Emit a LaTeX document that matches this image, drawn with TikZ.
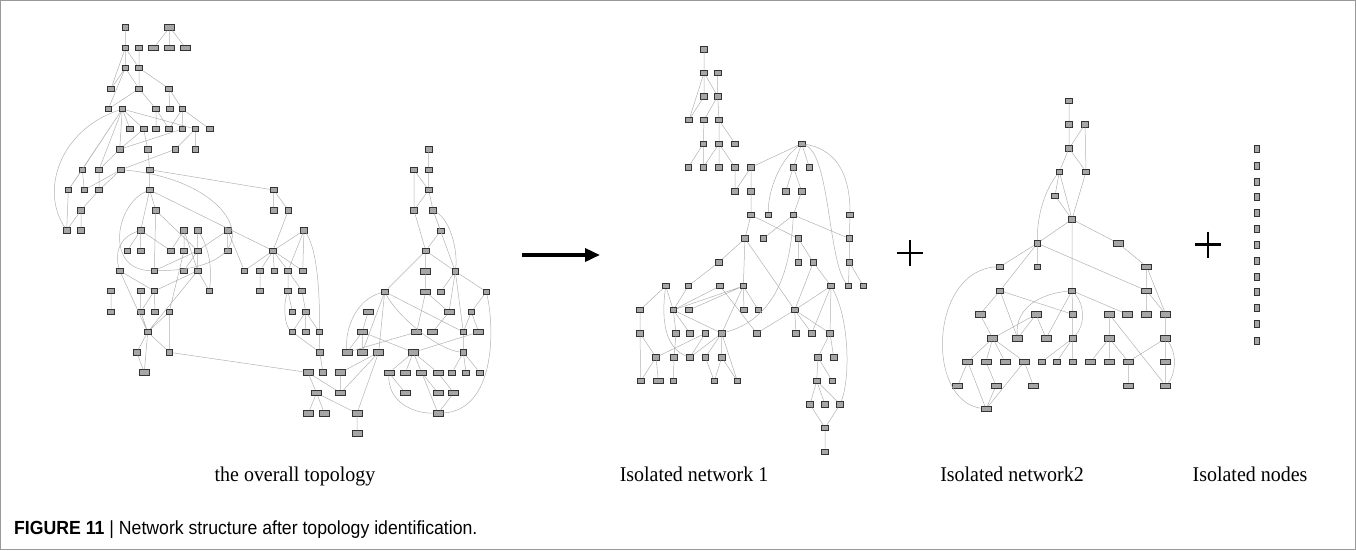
\documentclass[tikz,border=0pt]{standalone}
\usepackage{fontspec}
\setmainfont{Liberation Serif}[FakeStretch=0.95]
\newfontfamily\capfont{Liberation Sans}[FakeStretch=0.93]
\usetikzlibrary{arrows.meta}

\begin{document}
\begin{tikzpicture}[x=1pt,y=-1pt,
	nd/.style={rectangle, draw=black!80, fill=black!35, line width=0.8pt, minimum width=6.5pt, minimum height=5.5pt, inner sep=0pt},
	wnd/.style={nd, minimum width=10pt},
	vnd/.style={nd, minimum width=5.5pt, minimum height=7pt},
	ln/.style={draw=black!30, line width=0.5pt},
	lbl/.style={font=\fontsize{21}{24}\selectfont, anchor=base},
	plusbar/.style={line width=2.5pt, black}]
	\useasboundingbox (0,0) rectangle (1356,550);
	\draw[black!40, line width=1pt] (0.5,0.5) rectangle (1355.5,549.5);

	% the overall topology
	\node[nd] (t1) at (125.3,27.3) {};
	\node[wnd] (tw1) at (169.7,27.3) {};
	\node[nd] (t2) at (125.3,48) {};
	\node[nd] (t3) at (139,48) {};
	\node[wnd] (tw2) at (153.7,48) {};
	\node[wnd] (tw3) at (169.7,48) {};
	\node[wnd] (tw4) at (185.7,48) {};
	\node[nd] (t4) at (125.3,68) {};
	\node[nd] (t5) at (139,68) {};
	\node[nd] (t6) at (111,88.7) {};
	\node[nd] (t7) at (139,88.7) {};
	\node[nd] (t8) at (169,88.7) {};
	\node[nd] (t9) at (108.3,109) {};
	\node[nd] (t10) at (122.3,109) {};
	\node[nd] (t11) at (156,109) {};
	\node[nd] (t12) at (169.7,109) {};
	\node[nd] (t13) at (182.3,109) {};
	\node[nd] (t14) at (130,129) {};
	\node[nd] (t15) at (143.7,129) {};
	\node[nd] (t16) at (156,129) {};
	\node[nd] (t17) at (169,129) {};
	\node[nd] (t18) at (182.3,129) {};
	\node[nd] (t19) at (195.3,129) {};
	\node[nd] (t20) at (209.7,129) {};
	\node[nd] (t21) at (119.7,149.3) {};
	\node[nd] (t22) at (147.7,149.3) {};
	\node[nd] (t23) at (175.3,149.3) {};
	\node[nd] (t24) at (195.3,149.3) {};
	\node[nd] (t25) at (82.3,169.7) {};
	\node[nd] (t26) at (99,169.7) {};
	\node[nd] (t27) at (121,169.7) {};
	\node[nd] (t28) at (149.7,169.7) {};
	\node[nd] (t29) at (68.3,190) {};
	\node[nd] (t30) at (84.3,190) {};
	\node[nd] (t31) at (99,190) {};
	\node[nd] (t32) at (149.7,190) {};
	\node[nd] (t33) at (273.7,190) {};
	\node[nd] (t34) at (81,210.3) {};
	\node[nd] (t35) at (155.7,210.3) {};
	\node[nd] (t36) at (273.7,210.3) {};
	\node[nd] (t37) at (288.3,210.3) {};
	\node[nd] (t38) at (66.7,230.3) {};
	\node[nd] (t39) at (81,230.3) {};
	\node[nd] (t40) at (140.7,230.3) {};
	\node[nd] (t41) at (184,230.3) {};
	\node[nd] (t42) at (197.7,230.3) {};
	\node[nd] (t43) at (227.7,230.3) {};
	\node[nd] (t44) at (304,230.3) {};
	\node[nd] (t45) at (127.3,250.7) {};
	\node[nd] (t46) at (140.7,250.7) {};
	\node[nd] (t47) at (170.7,250.7) {};
	\node[nd] (t48) at (184,250.7) {};
	\node[nd] (t49) at (197.7,250.7) {};
	\node[nd] (t50) at (227.7,250.7) {};
	\node[nd] (t51) at (273,250.7) {};
	\node[nd] (t52) at (119.7,270.7) {};
	\node[nd] (t53) at (154.3,270.7) {};
	\node[nd] (t54) at (184,270.7) {};
	\node[nd] (t55) at (197.7,270.7) {};
	\node[nd] (t56) at (244.3,270.7) {};
	\node[nd] (t57) at (260,270.7) {};
	\node[nd] (t58) at (274.3,270.7) {};
	\node[nd] (t59) at (288,270.7) {};
	\node[nd] (t60) at (302.7,270.7) {};
	\node[nd] (t61) at (111,291) {};
	\node[nd] (t62) at (140.7,291) {};
	\node[nd] (t63) at (154.3,291) {};
	\node[nd] (t64) at (209.3,291) {};
	\node[nd] (t65) at (260,291) {};
	\node[nd] (t66) at (288,291) {};
	\node[nd] (t67) at (302,291) {};
	\node[nd] (t68) at (111,311.7) {};
	\node[nd] (t69) at (140.7,311.7) {};
	\node[nd] (t70) at (155,311.7) {};
	\node[nd] (t71) at (169.3,311.7) {};
	\node[nd] (t72) at (292.3,311.7) {};
	\node[nd] (t73) at (305.7,311.7) {};
	\node[nd] (t74) at (147.7,332) {};
	\node[nd] (t75) at (292.3,332) {};
	\node[nd] (t76) at (305.7,332) {};
	\node[nd] (t77) at (319.3,332) {};
	\node[nd] (t78) at (136.7,352.3) {};
	\node[nd] (t79) at (169.3,352.3) {};
	\node[nd] (t80) at (319.7,352.3) {};
	\node[wnd] (tw81) at (144.3,372.3) {};
	\node[wnd] (tw82) at (308,372.5) {};
	\node[nd] (t83) at (323,372.5) {};
	\node[wnd] (tw84) at (340.7,372.5) {};
	\node[wnd] (tw85) at (316.5,393) {};
	\node[wnd] (tw86) at (340.7,393) {};
	\node[wnd] (tw87) at (308.3,413.3) {};
	\node[wnd] (tw88) at (324.5,413.3) {};
	\node[wnd] (tw89) at (357,413.3) {};
	\node[wnd] (tw90) at (357,433.3) {};
	\node[nd] (c1) at (428.7,149.3) {};
	\node[nd] (c2) at (414,170) {};
	\node[nd] (c3) at (428.7,170) {};
	\node[nd] (c4) at (428.7,190) {};
	\node[nd] (c5) at (414,210.3) {};
	\node[nd] (c6) at (433,210.3) {};
	\node[nd] (c7) at (440.7,230.7) {};
	\node[nd] (c8) at (425.7,250.7) {};
	\node[wnd] (cw9) at (425.7,271.3) {};
	\node[nd] (c10) at (455.3,271.3) {};
	\node[nd] (c11) at (384.7,291.7) {};
	\node[wnd] (cw12) at (425.7,291.7) {};
	\node[nd] (c13) at (440.7,291.7) {};
	\node[nd] (c14) at (486.3,291.7) {};
	\node[wnd] (cw15) at (368,312) {};
	\node[wnd] (cw16) at (449,312) {};
	\node[nd] (c17) at (471.3,312) {};
	\node[wnd] (cw18) at (362.3,332) {};
	\node[wnd] (cw19) at (416.7,332) {};
	\node[wnd] (cw20) at (432.7,332) {};
	\node[nd] (c21) at (463.3,332) {};
	\node[wnd] (cw22) at (478.7,332) {};
	\node[wnd] (cw23) at (347,352.3) {};
	\node[wnd] (cw24) at (362.3,352.3) {};
	\node[wnd] (cw25) at (378.7,352.3) {};
	\node[wnd] (cw26) at (413.3,352.3) {};
	\node[nd] (c27) at (463.3,352.3) {};
	\node[wnd] (cw28) at (389,372.7) {};
	\node[wnd] (cw29) at (405.3,372.7) {};
	\node[wnd] (cw30) at (421.7,372.7) {};
	\node[wnd] (cw31) at (438,372.7) {};
	\node[nd] (c32) at (452,372.7) {};
	\node[nd] (c33) at (466,372.7) {};
	\node[nd] (c34) at (480,372.7) {};
	\node[wnd] (cw35) at (405.3,393) {};
	\node[wnd] (cw36) at (438,393) {};
	\node[wnd] (cw37) at (453.7,393) {};
	\node[wnd] (cw38) at (438,413.3) {};
	\draw[ln] (t1)--(t2) (tw1)--(tw2) (tw1)--(tw3) (tw1)--(tw4)
		(t2)--(t4) (t2)--(t5) (t3)--(t5) (t2)--(t6) (t4)--(t6) (t4)--(t9) (t4)--(t7) (t5)--(t7) (t5)--(t8)
		(t7)--(t9) (t7)--(t11) (t8)--(t12) (t8)--(t13)
		(t10)--(t14) (t10)--(t15) (t10)--(t19) (t10)--(t21) (t10)--(t25) (t10)--(t26) (t10)--(t29)
		(t11)--(t16) (t11)--(t17) (t13)--(t17) (t13)--(t18) (t13)--(t20)
		(t15)--(t21) (t15)--(t22) (t18)--(t21) (t19)--(t23) (t19)--(t24) (t23)--(t27) (t22)--(t28) (t21)--(t26)
		(t25)--(t29) (t25)--(t30) (t26)--(t31) (t27)--(t30) (t27)--(t31) (t31)--(t34)
		(t29)--(t38) (t34)--(t38) (t34)--(t39)
		(t28)--(t32) (t28)--(t33) (t32)--(t35) (t32)--(t40) (t32)--(t51) (t35)--(t53) (t35)--(t49)
		(t40)--(t45) (t40)--(t46) (t40)--(t47)
		(t41)--(t47) (t41)--(t48) (t41)--(t55) (t42)--(t49) (t43)--(t50) (t43)--(t49) (t43)--(t56)
		(t49)--(t53) (t49)--(t54) (t49)--(t55) (t48)--(t71)
		(t55)--(t63) (t55)--(t64) (t55)--(t74) (t52)--(t63) (t52)--(t74)
		(t63)--(t69) (t63)--(t70) (t62)--(t69) (t61)--(t68)
		(t69)--(t74) (t71)--(t74) (t71)--(t79) (t74)--(t78) (t74)--(t79) (t74)--(tw81) (t78)--(tw81) (t79)--(tw82)
		(t33)--(t36) (t33)--(t37) (t37)--(t51) (t44)--(t51) (t44)--(t59) (t44)--(t60)
		(t51)--(t56) (t51)--(t57) (t51)--(t58) (t51)--(t59) (t51)--(t60) (t57)--(t65) (t59)--(t66) (t59)--(t67)
		(t66)--(t72) (t67)--(t73) (t73)--(t75) (t73)--(t76) (t73)--(t77) (t75)--(t80) (t77)--(t80) (t80)--(t83)
		(tw82)--(tw85) (tw82)--(tw86) (tw85)--(tw87) (tw85)--(tw88) (tw85)--(tw89) (tw84)--(tw86) (tw89)--(tw90)
		(cw25)--(tw84) (cw25)--(tw86) (cw25)--(tw89)
		(c1)--(c3) (c2)--(c4) (c2)--(c5) (c3)--(c4) (c4)--(c5) (c4)--(c6) (c5)--(c8) (c6)--(c7) (c6)--(c10) (c7)--(c8)
		(c8)--(cw9) (c8)--(c10) (c8)--(c11) (cw9)--(cw12) (cw12)--(cw16) (cw12)--(cw19)
		(c10)--(c13) (c10)--(cw16) (c10)--(c14) (c10)--(c21) (c14)--(c17) (c17)--(c21) (c17)--(cw22)
		(c11)--(cw24) (c11)--(cw25) (c11)--(c21) (cw15)--(cw18) (cw18)--(cw23) (cw18)--(cw24) (cw18)--(cw26)
		(cw19)--(cw23) (cw22)--(cw26) (cw16)--(cw20) (c21)--(c27)
		(cw26)--(cw28) (cw26)--(cw29) (cw26)--(cw30) (cw26)--(cw31) (c27)--(c32) (c27)--(c33) (c27)--(c34)
		(cw28)--(cw35) (cw30)--(cw36) (cw30)--(cw38) (cw31)--(cw37) (cw37)--(cw38);
	\draw[ln] (t10) .. controls (60,130) and (40,190) .. (t38);
	\draw[ln] (t27) .. controls (240,180) and (280,270) .. (t53);
	\draw[ln] (t32) .. controls (115,205) and (105,270) .. (t53);
	\draw[ln] (t40) .. controls (118,238) and (115,255) .. (t52);
	\draw[ln] (t42) .. controls (210,250) and (212,270) .. (t64);
	\draw[ln] (t44) .. controls (318,250) and (320,300) .. (t77);
	\draw[ln] (t66) .. controls (283,305) and (285,325) .. (t75);
	\draw[ln] (c6) .. controls (450,220) and (458,250) .. (c10);
	\draw[ln] (c14) .. controls (495,330) and (495,410) .. (cw38);
	\draw[ln] (cw28) .. controls (388,400) and (410,413) .. (cw38);
	\draw[ln] (c11) .. controls (355,300) and (345,330) .. (cw23);
	\draw[ln] (c11) .. controls (400,320) and (440,350) .. (c27);

	% isolated network 1
	\node[nd] (a1) at (704,49.3) {};
	\node[nd] (a2) at (704,72.7) {};
	\node[nd] (a3) at (717.7,72.7) {};
	\node[nd] (a4) at (704,96.3) {};
	\node[nd] (a5) at (717.7,96.3) {};
	\node[nd] (a6) at (689,120) {};
	\node[nd] (a7) at (704,120) {};
	\node[nd] (a8) at (719,120) {};
	\node[nd] (a9) at (703.3,143.7) {};
	\node[nd] (a10) at (719,143.7) {};
	\node[nd] (a11) at (735,143.7) {};
	\node[nd] (a12) at (801.7,143.7) {};
	\node[nd] (a13) at (688.3,167.3) {};
	\node[nd] (a14) at (703.3,167.3) {};
	\node[nd] (a15) at (719,167.3) {};
	\node[nd] (a16) at (735,167.3) {};
	\node[nd] (a17) at (751,167.3) {};
	\node[nd] (a18) at (793.3,167.3) {};
	\node[nd] (a19) at (809.3,167.3) {};
	\node[nd] (a20) at (735,191.3) {};
	\node[nd] (a21) at (751,191.3) {};
	\node[nd] (a22) at (785.7,191.3) {};
	\node[nd] (a23) at (801.7,191.3) {};
	\node[nd] (a24) at (751,215) {};
	\node[nd] (a25) at (768.3,215) {};
	\node[nd] (a26) at (793.3,215) {};
	\node[nd] (a27) at (850,215) {};
	\node[nd] (a28) at (745,238.5) {};
	\node[nd] (a29) at (763.3,238.5) {};
	\node[nd] (a30) at (798.3,238.5) {};
	\node[nd] (a31) at (849.3,238.5) {};
	\node[nd] (a32) at (718.7,262.3) {};
	\node[nd] (a33) at (798.3,262.3) {};
	\node[nd] (a34) at (813.3,262.3) {};
	\node[nd] (a35) at (849.3,262.3) {};
	\node[nd] (a36) at (665.7,286) {};
	\node[nd] (a37) at (688.3,286) {};
	\node[nd] (a38) at (720,286) {};
	\node[nd] (a39) at (743.3,286) {};
	\node[nd] (a40) at (831,286) {};
	\node[nd] (a41) at (848.3,286) {};
	\node[nd] (a42) at (863.3,286) {};
	\node[nd] (a43) at (640,310) {};
	\node[nd] (a44) at (673.3,310) {};
	\node[nd] (a45) at (689,310) {};
	\node[nd] (a46) at (744,310) {};
	\node[nd] (a47) at (758.3,310) {};
	\node[nd] (a48) at (794.7,310) {};
	\node[nd] (a49) at (640,333.3) {};
	\node[nd] (a50) at (676,333.3) {};
	\node[nd] (a51) at (690,333.3) {};
	\node[nd] (a52) at (705.3,333.3) {};
	\node[nd] (a53) at (721.7,333.3) {};
	\node[nd] (a54) at (756.7,333.3) {};
	\node[nd] (a55) at (796,333.3) {};
	\node[nd] (a56) at (811.7,333.3) {};
	\node[nd] (a57) at (830,333.3) {};
	\node[nd] (a58) at (656,357.3) {};
	\node[nd] (a59) at (674,357.3) {};
	\node[nd] (a60) at (690,357.3) {};
	\node[nd] (a61) at (705.3,357.3) {};
	\node[nd] (a62) at (721.7,357.3) {};
	\node[nd] (a63) at (818,357.3) {};
	\node[nd] (a64) at (833.7,357.3) {};
	\node[nd] (a65) at (640.7,381) {};
	\node[wnd] (aw66) at (658.3,381) {};
	\node[nd] (a67) at (673.3,381) {};
	\node[nd] (a68) at (714.3,381) {};
	\node[nd] (a69) at (737.3,381) {};
	\node[nd] (a70) at (816.7,381) {};
	\node[nd] (a71) at (832.3,381) {};
	\node[nd] (a72) at (810,404.3) {};
	\node[nd] (a73) at (825,404.3) {};
	\node[nd] (a74) at (840,404.3) {};
	\node[nd] (a75) at (825,428) {};
	\node[nd] (a76) at (825,451.7) {};
	\draw[ln] (a1)--(a2) (a2)--(a4) (a2)--(a5) (a2)--(a6) (a3)--(a5) (a4)--(a6) (a5)--(a7) (a5)--(a8)
		(a7)--(a9) (a8)--(a10) (a8)--(a11) (a9)--(a13) (a9)--(a14) (a10)--(a14) (a10)--(a15) (a10)--(a16)
		(a16)--(a20) (a17)--(a20) (a17)--(a21) (a12)--(a17) (a12)--(a18) (a12)--(a19)
		(a18)--(a22) (a18)--(a23) (a23)--(a26) (a21)--(a24) (a24)--(a28) (a24)--(a30) (a26)--(a29) (a26)--(a31) (a27)--(a31)
		(a28)--(a32) (a28)--(a39) (a28)--(a48) (a30)--(a33) (a30)--(a34) (a34)--(a40) (a34)--(a48)
		(a31)--(a35) (a35)--(a41) (a35)--(a42)
		(a32)--(a37) (a37)--(a44) (a36)--(a43) (a36)--(a44) (a38)--(a44) (a38)--(a54)
		(a39)--(a44) (a39)--(a45) (a39)--(a46) (a39)--(a47) (a39)--(a53)
		(a40)--(a48) (a40)--(a56) (a40)--(a57) (a48)--(a54) (a48)--(a55) (a48)--(a56) (a48)--(a57)
		(a43)--(a49) (a49)--(a65) (a49)--(a58) (a44)--(a50) (a44)--(a51) (a44)--(a53) (a50)--(a59)
		(a52)--(a58) (a52)--(a60) (a53)--(a60) (a53)--(a61) (a53)--(a62) (a53)--(a69) (a62)--(a68) (a62)--(a69)
		(a58)--(a65) (a58)--(aw66) (a59)--(a67) (a61)--(a68)
		(a57)--(a63) (a57)--(a64) (a63)--(a70) (a63)--(a71) (a70)--(a72) (a70)--(a73) (a70)--(a74)
		(a72)--(a75) (a74)--(a75) (a75)--(a76);
	\draw[ln] (a12) .. controls (780,160) and (768,190) .. (a25);
	\draw[ln] (a12) .. controls (840,150) and (850,180) .. (a27);
	\draw[ln] (a12) .. controls (830,155) and (828,260) .. (a41);
	\draw[ln] (a26) .. controls (790,280) and (770,320) .. (a53);
	\draw[ln] (a36) .. controls (660,330) and (670,350) .. (a60);
	\draw[ln] (a40) .. controls (850,320) and (850,380) .. (a74);

	% isolated network 2
	\node[nd] (b1) at (1069,101) {};
	\node[nd] (b2) at (1069,124.3) {};
	\node[nd] (b3) at (1085,124.3) {};
	\node[nd] (b4) at (1069,148.3) {};
	\node[nd] (b5) at (1059.3,171.7) {};
	\node[nd] (b6) at (1086,171.7) {};
	\node[nd] (b7) at (1055,195.7) {};
	\node[nd] (b8) at (1072,219.3) {};
	\node[nd] (b9) at (1037.3,243.3) {};
	\node[wnd] (bw10) at (1118.3,243.3) {};
	\node[nd] (b11) at (1000,266.7) {};
	\node[nd] (b12) at (1037.3,266.7) {};
	\node[wnd] (bw13) at (1146.7,266.7) {};
	\node[nd] (b14) at (1000,290.7) {};
	\node[nd] (b15) at (1072,290.7) {};
	\node[wnd] (bw16) at (1146.7,290.7) {};
	\node[wnd] (bw17) at (980,314.3) {};
	\node[wnd] (bw18) at (1036,314.3) {};
	\node[nd] (b19) at (1072.7,314.3) {};
	\node[wnd] (bw20) at (1109.3,314.3) {};
	\node[wnd] (bw21) at (1127.3,314.3) {};
	\node[wnd] (bw22) at (1146.7,314.3) {};
	\node[wnd] (bw23) at (1165.7,314.3) {};
	\node[wnd] (bw24) at (992.7,338.3) {};
	\node[wnd] (bw25) at (1017.7,338.3) {};
	\node[wnd] (bw26) at (1046,338.3) {};
	\node[nd] (b27) at (1072.7,338.3) {};
	\node[wnd] (bw28) at (1109.3,338.3) {};
	\node[wnd] (bw29) at (1165.7,338.3) {};
	\node[wnd] (bw30) at (967.7,361.7) {};
	\node[wnd] (bw31) at (986,361.7) {};
	\node[wnd] (bw32) at (1005,361.7) {};
	\node[wnd] (bw33) at (1024.3,361.7) {};
	\node[nd] (b34) at (1042,361.7) {};
	\node[nd] (b35) at (1056.7,361.7) {};
	\node[nd] (b36) at (1072.7,361.7) {};
	\node[wnd] (bw37) at (1090.7,361.7) {};
	\node[wnd] (bw38) at (1109.3,361.7) {};
	\node[wnd] (bw39) at (1128.3,361.7) {};
	\node[wnd] (bw40) at (1165.7,361.7) {};
	\node[wnd] (bw41) at (957.7,385.7) {};
	\node[wnd] (bw42) at (996,385.7) {};
	\node[wnd] (bw43) at (1033.3,385.7) {};
	\node[wnd] (bw44) at (1128.3,385.7) {};
	\node[wnd] (bw45) at (1165.7,385.7) {};
	\node[wnd] (bw46) at (986,409) {};
	\draw[ln] (b1)--(b2) (b2)--(b4) (b3)--(b4) (b3)--(b6) (b4)--(b5) (b4)--(b6) (b5)--(b7) (b5)--(b8) (b6)--(b8) (b7)--(b8)
		(b8)--(b9) (b8)--(bw10) (b8)--(b15) (b9)--(b11) (b9)--(b12) (b9)--(b14) (b9)--(bw16)
		(bw10)--(bw13) (bw13)--(bw16) (bw13)--(bw23)
		(b14)--(bw17) (b14)--(bw25) (b14)--(b19) (b15)--(bw26) (b15)--(b19) (b15)--(bw21)
		(bw18)--(bw24) (bw18)--(bw25) (bw18)--(bw26) (bw17)--(bw24)
		(bw24)--(bw30) (bw24)--(bw31) (bw24)--(bw32) (bw24)--(bw33)
		(bw30)--(bw41) (bw30)--(bw46) (bw31)--(bw42) (bw42)--(bw46) (bw33)--(bw46) (bw33)--(bw43)
		(b19)--(b27) (b27)--(b34) (b27)--(b35) (b27)--(b36)
		(bw20)--(bw28) (bw20)--(bw45) (bw28)--(bw37) (bw28)--(bw38) (bw28)--(bw39) (bw39)--(bw44)
		(bw16)--(bw22) (bw16)--(bw23) (bw23)--(bw29) (bw29)--(bw39) (bw29)--(bw40) (bw40)--(bw45);
	\draw[ln] (b5) .. controls (1045,190) and (1037,215) .. (b9);
	\draw[ln] (b11) .. controls (930,270) and (925,400) .. (bw46);
	\draw[ln] (b15) .. controls (1030,295) and (1015,315) .. (bw25);
	\draw[ln] (b15) .. controls (1085,305) and (1085,325) .. (b27);
	\draw[ln] (bw29) .. controls (1178,355) and (1175,375) .. (bw45);

	% isolated nodes
	\node[vnd] (i1) at (1256.7,149.3) {};
	\node[vnd] (i2) at (1256.7,166) {};
	\node[vnd] (i3) at (1256.7,181.7) {};
	\node[vnd] (i4) at (1256.7,197.3) {};
	\node[vnd] (i5) at (1256.7,213.3) {};
	\node[vnd] (i6) at (1256.7,229) {};
	\node[vnd] (i7) at (1256.7,245) {};
	\node[vnd] (i8) at (1256.7,261) {};
	\node[vnd] (i9) at (1256.7,276.7) {};
	\node[vnd] (i10) at (1256.7,292.3) {};
	\node[vnd] (i11) at (1256.7,308.3) {};
	\node[vnd] (i12) at (1256.7,324.3) {};
	\node[vnd] (i13) at (1256.7,341) {};

	% arrow and plus signs
	\coordinate (arrS) at (522,255);
	\coordinate (arrE) at (600,255);
	\draw[line width=3.5pt, -{Triangle[length=15pt,width=13pt]}] (arrS) -- (arrE);
	\draw[plusbar] (897,253) -- (923,253) (910,240) -- (910,266);
	\draw[plusbar] (1195,244.5) -- (1221,244.5) (1208,231.5) -- (1208,257.5);

	% labels
	\node[lbl] (lblTop) at (295,481.5) {the overall topology};
	\node[lbl] (lblNet1) at (694,481.5) {Isolated network 1};
	\node[lbl] (lblNet2) at (1012,481.5) {Isolated network2};
	\node[lbl] (lblIso) at (1250,481.5) {Isolated nodes};
	\node[anchor=base west, inner sep=0pt, font=\capfont\fontsize{19}{22}\selectfont] (caption) at (14,534)
		{\textbf{FIGURE 11} | Network structure after topology identification.};
\end{tikzpicture}
\end{document}
